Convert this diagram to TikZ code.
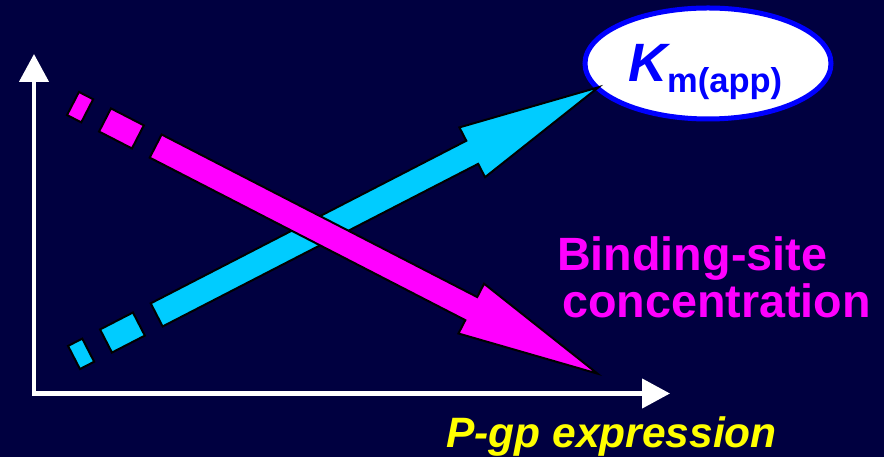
\documentclass[tikz,border=0pt]{standalone}
\usepackage{fontspec}
\setmainfont{Liberation Sans}
\usetikzlibrary{arrows.meta,shapes.geometric}
\definecolor{bg}{RGB}{0,0,64}
\definecolor{cyanarrow}{RGB}{0,204,255}
\definecolor{magarrow}{RGB}{255,0,255}
\definecolor{kblue}{RGB}{0,0,255}
\definecolor{ylw}{RGB}{255,255,0}
\tikzset{
  axisline/.style={white, line width=4.5pt, line join=miter,
    {Triangle[length=28pt,width=29pt]}-{Triangle[length=28pt,width=29pt]}},
  pics/fatarrow/.style={code={
    \draw[fill=#1, draw=black, line width=2pt, line join=miter]
      (0,-13) rectangle (16,13)
      (36,-13) rectangle (73,13)
      (93,-13) -- (448,-13) -- (448,-28) -- (590,0) -- (448,28) -- (448,13) -- (93,13) -- cycle;
  }},
  kmellipse/.style={ellipse, draw=kblue, fill=white, line width=5pt,
    minimum width=246pt, minimum height=111pt, inner sep=0pt},
  bigmag/.style={anchor=base west, inner sep=0pt, text=magarrow,
    font=\fontsize{46.7}{47}\selectfont\bfseries},
}
\begin{document}
\begin{tikzpicture}[x=1pt,y=1pt]
  \fill[bg] (0,0) rectangle (884,457);
  \useasboundingbox (0,0) rectangle (884,457);
  % axes
  \coordinate (ytip) at (34,403);
  \coordinate (origin) at (34,63.5);
  \coordinate (xtip) at (670,63.5);
  \draw[axisline] (ytip) -- (origin) -- (xtip);
  % ellipse
  \node[kmellipse] (km) at (708,393.5) {};
  \node[anchor=base west, inner sep=0pt, text=kblue] (kmlabel) at (628,375)
    {\fontsize{54}{54}\selectfont\bfseries\itshape K\fontsize{34.5}{34.5}\selectfont\upshape\raisebox{-11pt}{m(app)}};
  % arrows
  \coordinate (cstart) at (74,99.5);
  \coordinate (mstart) at (73,353.5);
  \pic[rotate=27.26] at (cstart) {fatarrow=cyanarrow};
  \pic[rotate=-27.25] at (mstart) {fatarrow=magarrow};
  % labels
  \node[bigmag] (bs1) at (557,186) {Binding-site};
  \node[bigmag] (bs2) at (562,139) {concentration};
  \node[anchor=base west, inner sep=0pt, text=ylw,
    font=\fontsize{42.5}{42.5}\selectfont\bfseries\itshape] (pgp) at (446,9) {P-gp expression};
\end{tikzpicture}
\end{document}
